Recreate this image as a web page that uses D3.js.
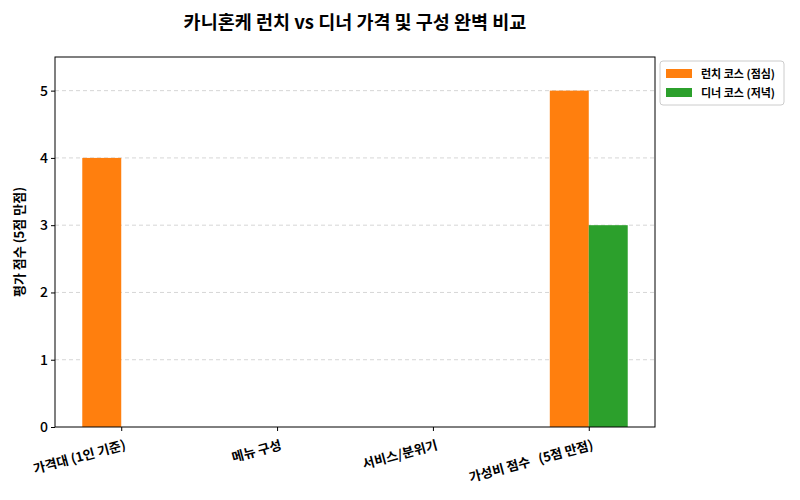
<!DOCTYPE html><html><head><meta charset="utf-8"><script src="https://cdn.jsdelivr.net/npm/d3@7"></script>
<style>body{margin:0;background:#fff}text{font-family:"Noto Sans CJK KR","Noto Sans",sans-serif;white-space:pre}</style></head><body>
<svg id="c" width="800" height="500"></svg>
<script>
const categories=["가격대 (1인 기준)","메뉴 구성","서비스/분위기","가성비 점수   (5점 만점)"];
const lunch=[4,0,0,5];
const dinner=[0,0,0,3];
const yTicks=[0,1,2,3,4,5];
const seriesNames=["런치 코스 (점심)","디너 코스 (저녁)"];
const colors=["#ff7f0e","#2ca02c"];
const svg=d3.select("#c");
const L=55,R=655,T=57,B=427;
const x=d3.scaleLinear().domain([-0.425,3.425]).range([L,R]);
const y=d3.scaleLinear().domain([0,5.5]).range([B,T]);
const w=0.25;
const g=svg.append("g");
g.selectAll(".gl").data(yTicks.slice(1)).enter().append("line").attr("x1",L).attr("x2",R).attr("y1",d=>y(d)).attr("y2",d=>y(d)).attr("stroke","#ccc").attr("stroke-dasharray","4,3").attr("stroke-width",0.8);
[lunch,dinner].forEach((s,k)=>{
 g.selectAll(".b"+k).data(s).enter().append("rect").attr("x",(d,i)=>x(i+(k-1)*w)).attr("width",x(w)-x(0)).attr("y",d=>y(d)).attr("height",d=>y(0)-y(d)).attr("fill",colors[k]);
});
g.append("rect").attr("x",L).attr("y",T).attr("width",R-L).attr("height",B-T).attr("fill","none").attr("stroke","#000");
const ya=svg.append("g").attr("transform",`translate(${L},0)`).call(d3.axisLeft(y).tickValues(yTicks).tickFormat(d3.format("d")).tickSize(4));
ya.select(".domain").remove();
ya.selectAll("text").attr("font-size",14).attr("font-weight",500);
const xa=svg.append("g").attr("transform",`translate(0,${B})`).call(d3.axisBottom(x).tickValues([0,1,2,3]).tickFormat(i=>categories[i]).tickSize(4));
xa.select(".domain").remove();
xa.selectAll("text").attr("font-size",13).attr("font-weight",700).attr("text-anchor","end").attr("dy","0.9em").attr("transform","translate(0,4) rotate(-15)");
svg.append("text").attr("x",355).attr("y",29).attr("text-anchor","middle").attr("font-size",18.5).attr("font-weight",700).text("카니혼케 런치 vs 디너 가격 및 구성 완벽 비교");
svg.append("text").attr("transform",`translate(24,${(T+B)/2}) rotate(-90)`).attr("text-anchor","middle").attr("font-size",13).attr("font-weight",700).text("평가 점수 (5점 만점)");
const lg=svg.append("g").attr("transform","translate(660,61)");
lg.append("rect").attr("width",124).attr("height",44).attr("rx",3).attr("fill","#fff").attr("stroke","#ccc");
seriesNames.forEach((n,i)=>{
 lg.append("rect").attr("x",6).attr("y",8+i*19).attr("width",26).attr("height",9).attr("fill",colors[i]);
 lg.append("text").attr("x",41).attr("y",17+i*19).attr("font-size",11).attr("font-weight",700).text(n);
});
</script></body></html>
